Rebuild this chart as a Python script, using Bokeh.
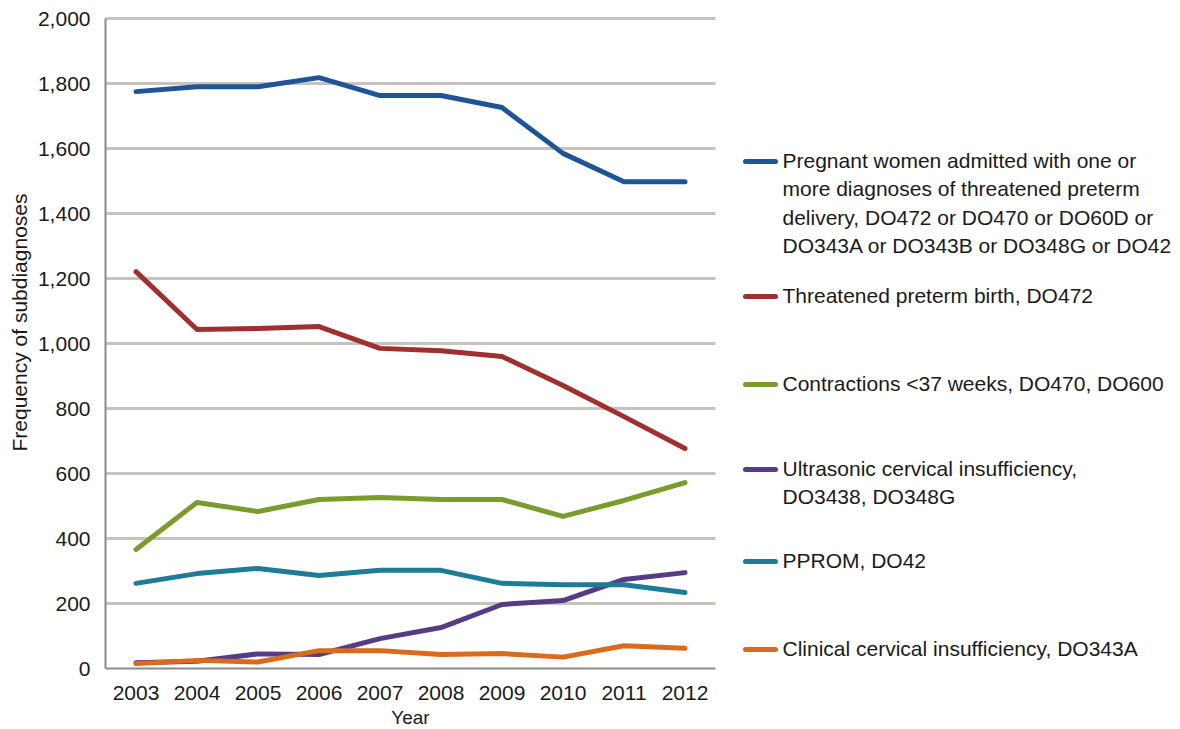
import math
from bokeh.plotting import figure
from bokeh.models import Range1d, FixedTicker, NumeralTickFormatter, ColumnDataSource
from bokeh.core.properties import value
from bokeh.embed import file_html
from bokeh.resources import INLINE

years = [2003, 2004, 2005, 2006, 2007, 2008, 2009, 2010, 2011, 2012]
total_threatened = [1775, 1790, 1790, 1818, 1763, 1763, 1726, 1585, 1498, 1498]
threatened_birth = [1221, 1043, 1046, 1052, 985, 978, 960, 871, 775, 677]
contractions = [366, 511, 483, 520, 526, 520, 520, 468, 517, 572]
ultrasonic = [18, 22, 45, 43, 92, 126, 197, 209, 274, 295]
pprom = [262, 292, 308, 286, 302, 302, 262, 258, 258, 234]
clinical = [15, 25, 20, 55, 55, 43, 46, 35, 70, 62]

series = [total_threatened, threatened_birth, contractions, ultrasonic, pprom, clinical]
labels = [
    "Pregnant women admitted with one or\nmore diagnoses of threatened preterm\ndelivery, DO472 or DO470 or DO60D or\nDO343A or DO343B or DO348G or DO42",
    "Threatened preterm birth, DO472",
    "Contractions <37 weeks, DO470, DO600",
    "Ultrasonic cervical insufficiency,\nDO3438, DO348G",
    "PPROM, DO42",
    "Clinical cervical insufficiency, DO343A",
]
colors = ["#1f5597", "#a03030", "#7a9c2a", "#563b87", "#1f7c98", "#d96b1e"]
y_ticks = [0, 200, 400, 600, 800, 1000, 1200, 1400, 1600, 1800, 2000]
y_max = 2000
x_title = "Year"
y_title = "Frequency of subdiagnoses"

FONT = "Liberation Sans"
TXT = "#1a1a1a"
W, H = 1176, 727
DX, DY = 0, 0                 # page offset of the figure
LEFT, BOTTOM, TOP = 105, 668, 18   # chart area in page pixels
PX_PER_YEAR = 61.0
PX_PER_UNIT = (BOTTOM - TOP) / y_max

x0 = years[0] - 0.5
x1 = years[-1] + 0.5
xs = x0 - (LEFT - DX) / PX_PER_YEAR
xe = xs + W / PX_PER_YEAR
ye = (BOTTOM - DY) / PX_PER_UNIT
ys = -(H - (BOTTOM - DY)) / PX_PER_UNIT

p = figure(width=W, height=H, output_backend="svg", toolbar_location=None,
           x_range=Range1d(xs, xe), y_range=Range1d(ys, ye), min_border=0)
p.outline_line_color = None
p.background_fill_color = "white"
p.border_fill_color = "white"
p.xgrid.grid_line_color = None
p.ygrid.grid_line_color = None

gl = [t for t in y_ticks if t > 0]
p.segment(x0=[x0] * len(gl), x1=[x1] * len(gl), y0=gl, y1=gl,
          line_color="#c6c3be", line_width=3)

for s, c in zip(series, colors):
    p.line(years, s, line_color=c, line_width=5, line_cap="round", line_join="round")

p.xaxis.ticker = FixedTicker(ticks=years)
p.yaxis.ticker = FixedTicker(ticks=y_ticks)
p.yaxis.formatter = NumeralTickFormatter(format="0,0")
p.xaxis.fixed_location = 0
p.yaxis.fixed_location = x0
p.xaxis.bounds = (x0, x1)
p.yaxis.bounds = (0, y_max)
for ax in (p.xaxis[0], p.yaxis[0]):
    ax.major_tick_line_color = None
    ax.minor_tick_line_color = None
    ax.axis_line_color = "#8a8a86"
    ax.axis_line_width = 2
    ax.major_label_text_font = FONT
    ax.major_label_text_font_size = "21px"
    ax.major_label_text_color = TXT
p.xaxis.major_label_standoff = 11
p.yaxis.major_label_standoff = 9

# pixel-space helpers for titles and legend
p.extra_x_ranges = {"px": Range1d(DX, DX + W)}
p.extra_y_ranges = {"px": Range1d(DY + H, DY)}

p.text(x=[(x0 + x1) / 2], y=[717], text=[x_title], y_range_name="px",
       text_font=value(FONT), text_font_size="19px", text_color=TXT,
       text_align="center", text_baseline="middle")
p.text(x=[19], y=[322], text=[y_title], x_range_name="px", y_range_name="px", angle=math.pi / 2,
       text_font=value(FONT), text_font_size="21px", text_color=TXT,
       text_align="center", text_baseline="middle")

leg_y = [161, 296, 384, 469, 561, 649]
for c, yy in zip(colors, leg_y):
    p.line([745, 775], [yy, yy], line_color=c, line_width=5, line_cap="round",
           x_range_name="px", y_range_name="px")
src = ColumnDataSource(dict(x=[782] * len(labels), y=[yy - 13 for yy in leg_y], t=labels))
p.text(x="x", y="y", text="t", source=src, text_font=value(FONT), text_font_size="21px",
       text_color=TXT, text_baseline="top", text_align="left", text_line_height=1.24,
       x_range_name="px", y_range_name="px")

open("out.html", "w").write(file_html(p, INLINE))
